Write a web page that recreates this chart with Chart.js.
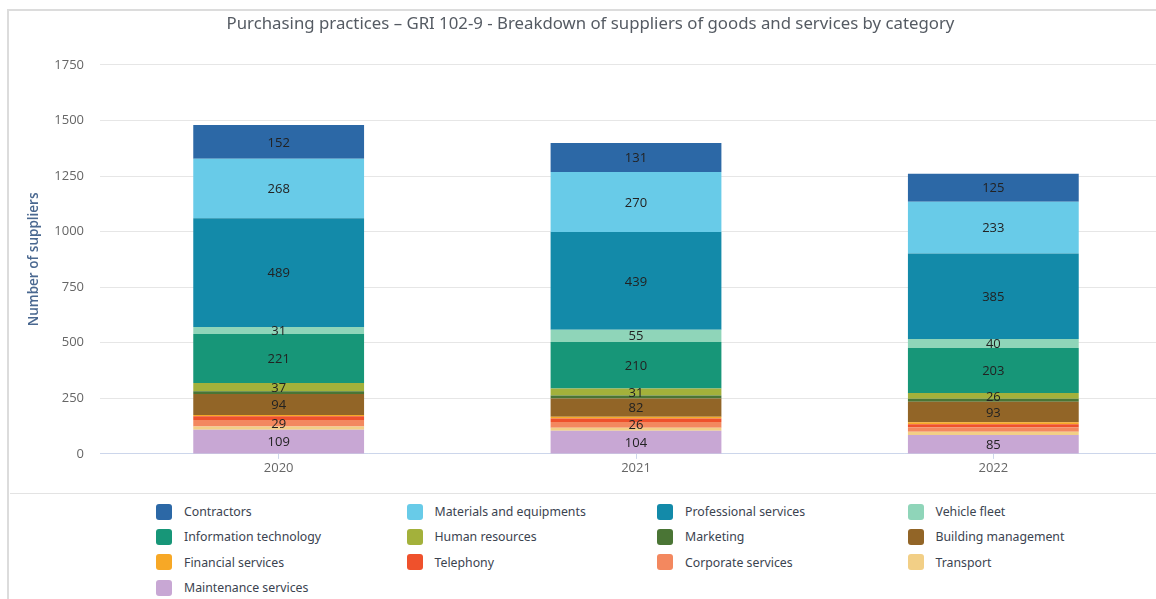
<!DOCTYPE html>
<html>
<head>
<meta charset="utf-8">
<title>Purchasing practices</title>
<script src="https://cdn.jsdelivr.net/npm/chart.js@4.4.1/dist/chart.umd.min.js"></script>
<style>
  html, body { margin: 0; padding: 0; background: #fff; overflow: hidden; }
  body { width: 1156px; height: 599px; position: relative; }
  .frame {
    position: absolute; left: 7px; top: 9px; width: 1200px; height: 600px;
    border-left: 2px solid #dcdcdc; border-top: 2px solid #dcdcdc;
  }
  .plot { position: absolute; left: 0; top: 0; width: 1175px; height: 480px; }
  .legend-wrap {
    position: absolute; left: 1px; top: 482px; width: 1200px; height: 120px;
    border-top: 1px solid #e3e3e3;
  }
  #legend {
    position: absolute; left: 146px; top: 5px;
    display: grid; grid-template-columns: repeat(4, 250.5px); grid-auto-rows: 25.3px;
    font-family: "Noto Sans", sans-serif; font-size: 12.3px; color: #3b4350;
  }
  #legend .item { display: flex; align-items: center; }
  #legend .swatch { width: 16px; height: 16px; border-radius: 3px; margin-right: 12px; }
</style>
</head>
<body>
<div class="frame">
  <div class="plot"><canvas id="c1" width="1175" height="480"></canvas></div>
  <div class="legend-wrap"><div id="legend"></div></div>
</div>
<script>
  // years on the x axis
  var years = ['2020', '2021', '2022']
  var yTicks = [0, 250, 500, 750, 1000, 1250, 1500, 1750]

  // supplier counts per category, bottom of the stack first
  var maintenance = [109, 104, 85]
  var transport = [14, 14, 15]
  var corporate = [29, 26, 20]
  var telephony = [17, 15, 13]
  var financial = [6, 8, 9]
  var building = [94, 82, 93]
  var marketing = [13, 14, 13]
  var humanResources = [37, 31, 26]
  var informationTech = [221, 210, 203]
  var vehicleFleet = [31, 55, 40]
  var professional = [489, 439, 385]
  var materials = [268, 270, 233]
  var contractors = [152, 131, 125]

  var seriesNames = [
    'Maintenance services', 'Transport', 'Corporate services', 'Telephony',
    'Financial services', 'Building management', 'Marketing', 'Human resources',
    'Information technology', 'Vehicle fleet', 'Professional services',
    'Materials and equipments', 'Contractors'
  ]
  var seriesData = [
    maintenance, transport, corporate, telephony, financial, building, marketing,
    humanResources, informationTech, vehicleFleet, professional, materials, contractors
  ]
  var seriesColors = [
    '#c8a7d4', '#f2cf86', '#f3885f', '#ef512c', '#f7a826', '#926527', '#4a7535',
    '#a3b13b', '#179678', '#8fd5b9', '#138aa9', '#68cbe8', '#2c68a6'
  ]

  var labelFont = '13px "Open Sans", sans-serif'

  // value labels centred in each segment (small ones are skipped)
  var segmentLabels = {
    id: 'segmentLabels',
    afterDatasetsDraw: function(chart) {
      var ctx = chart.ctx
      ctx.save()
      ctx.font = labelFont
      ctx.fillStyle = '#222'
      ctx.textAlign = 'center'
      ctx.textBaseline = 'middle'
      chart.data.datasets.forEach(function(ds, i) {
        var meta = chart.getDatasetMeta(i)
        if (meta.hidden) return
        meta.data.forEach(function(bar, j) {
          var v = ds.data[j]
          if (v < 25) return
          ctx.fillText(String(v), bar.x, (bar.y + bar.base) / 2 + 1)
        })
      })
      ctx.restore()
    }
  }

  var datasets = seriesNames.map(function(name, i) {
    return {
      label: name,
      data: seriesData[i],
      backgroundColor: seriesColors[i],
      borderWidth: 0,
      categoryPercentage: 1,
      barPercentage: 0.478
    }
  })

  var chart = new Chart(document.getElementById('c1'), {
    type: 'bar',
    data: { labels: years, datasets: datasets },
    plugins: [segmentLabels],
    options: {
      responsive: false,
      animation: false,
      layout: { padding: { left: 0, right: 12, top: 0, bottom: 12.5 } },
      plugins: {
        legend: { display: false },
        tooltip: { enabled: false },
        title: {
          display: true,
          text: 'Purchasing practices – GRI 102-9 - Breakdown of suppliers of goods and services by category',
          color: '#555b63',
          font: { family: '"Noto Sans", sans-serif', size: 16.8, weight: 'normal' },
          padding: { top: 3, bottom: 30.8 }
        }
      },
      scales: {
        x: {
          stacked: true,
          grid: {
            display: true, drawOnChartArea: false, offset: false,
            tickLength: 5, color: '#ccd6eb'
          },
          border: { color: '#ccd6eb' },
          ticks: {
            padding: 2, color: '#666',
            font: { family: '"Open Sans", sans-serif', size: 13 }
          }
        },
        y: {
          stacked: true,
          min: 0,
          max: 1750,
          afterFit: function(scale) { scale.width = 91 },
          afterBuildTicks: function(scale) {
            scale.ticks = yTicks.map(function(v) { return { value: v } })
          },
          grid: { color: '#e6e6e6', drawTicks: false },
          border: { display: false },
          ticks: {
            padding: 16, color: '#666',
            font: { family: '"Open Sans", sans-serif', size: 13 },
            callback: function(v) { return String(v) }
          },
          title: {
            display: true,
            text: 'Number of suppliers',
            color: '#4a6890',
            font: { family: '"Open Sans", sans-serif', size: 13.5, weight: 600 },
            padding: { top: 17, bottom: 0 }
          }
        }
      }
    }
  })

  // legend grid, top of the stack listed first
  var legendBox = document.getElementById('legend')
  for (var i = seriesNames.length - 1; i >= 0; i--) {
    var item = document.createElement('div')
    item.className = 'item'
    var sw = document.createElement('span')
    sw.className = 'swatch'
    sw.style.background = seriesColors[i]
    var txt = document.createElement('span')
    txt.textContent = seriesNames[i]
    item.appendChild(sw)
    item.appendChild(txt)
    legendBox.appendChild(item)
  }
</script>
</body>
</html>
